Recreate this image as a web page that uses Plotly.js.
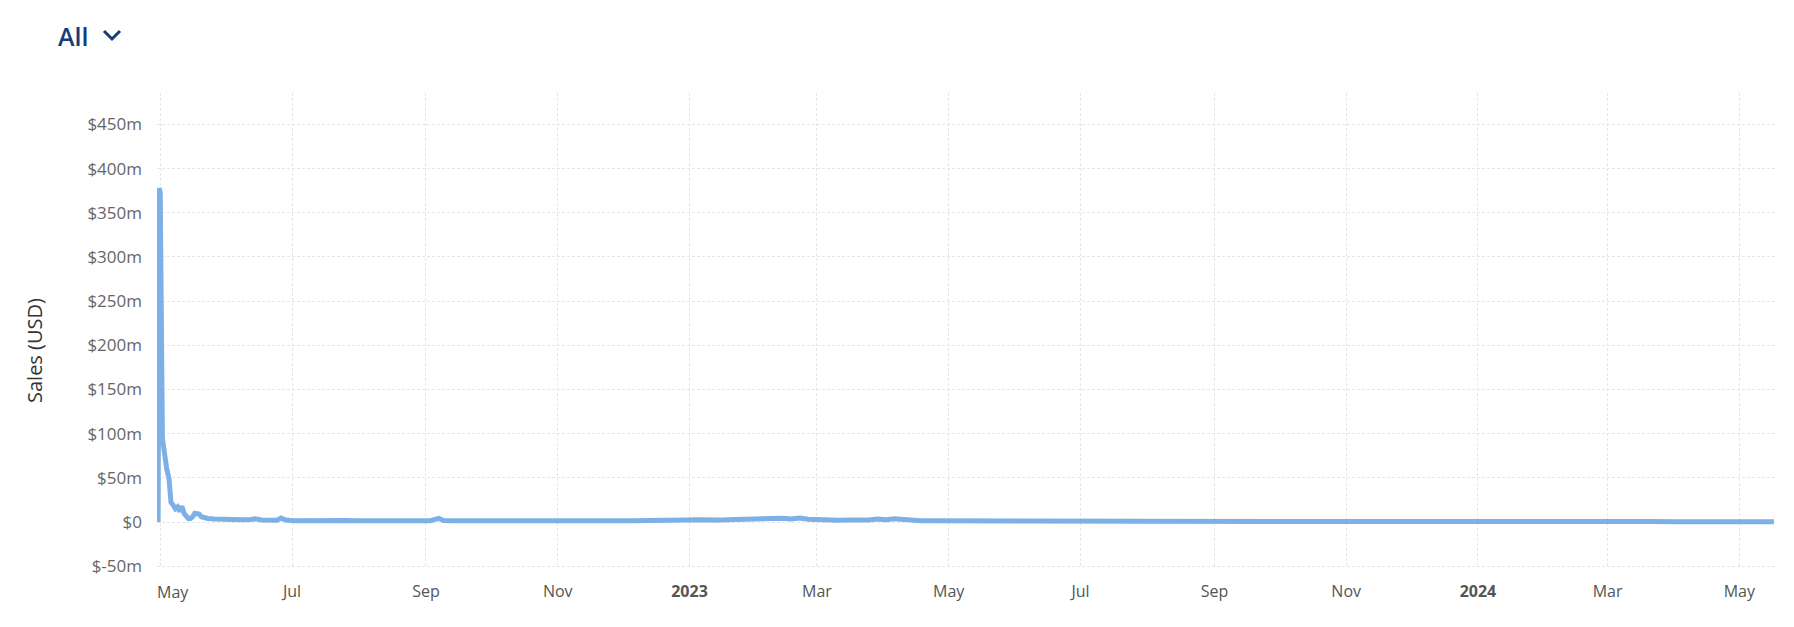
<!DOCTYPE html>
<html>
<head>
<meta charset="utf-8">
<script src="https://cdn.plot.ly/plotly-3.0.1.min.js"></script>
<style>
  html, body { margin: 0; padding: 0; background: #ffffff; }
  #chart { width: 1794px; height: 627px; }
</style>
</head>
<body>
<div id="chart"></div>
<script>
// Daily sales, in millions of USD
const dates = [
  "2022-04-30 00:00", "2022-04-30 12:00", "2022-05-01", "2022-05-02", "2022-05-03",
  "2022-05-04", "2022-05-05", "2022-05-06", "2022-05-07", "2022-05-08",
  "2022-05-09", "2022-05-10", "2022-05-11", "2022-05-12", "2022-05-13",
  "2022-05-14", "2022-05-15", "2022-05-16", "2022-05-17", "2022-05-18",
  "2022-05-19", "2022-05-20", "2022-05-21", "2022-05-23", "2022-05-26",
  "2022-05-30", "2022-06-03", "2022-06-08", "2022-06-12", "2022-06-14",
  "2022-06-17", "2022-06-21", "2022-06-24", "2022-06-26", "2022-06-28",
  "2022-07-02", "2022-07-06", "2022-07-10", "2022-07-14", "2022-07-18",
  "2022-07-22", "2022-07-26", "2022-07-30", "2022-08-04", "2022-08-09",
  "2022-08-14", "2022-08-19", "2022-08-24", "2022-08-29", "2022-09-03",
  "2022-09-07", "2022-09-09", "2022-09-14", "2022-09-20", "2022-09-26",
  "2022-10-02", "2022-10-08", "2022-10-14", "2022-10-20", "2022-10-26",
  "2022-11-01", "2022-11-07", "2022-11-13", "2022-11-19", "2022-11-25",
  "2022-12-01", "2022-12-07", "2022-12-13", "2022-12-19", "2022-12-25",
  "2022-12-30", "2023-01-04", "2023-01-10", "2023-01-16", "2023-01-22",
  "2023-01-27", "2023-02-01", "2023-02-05", "2023-02-09", "2023-02-13",
  "2023-02-17", "2023-02-21", "2023-02-25", "2023-03-01", "2023-03-06",
  "2023-03-11", "2023-03-16", "2023-03-21", "2023-03-25", "2023-03-29",
  "2023-04-02", "2023-04-06", "2023-04-12", "2023-04-18", "2023-04-25",
  "2023-05-03", "2023-05-12", "2023-05-22", "2023-06-01", "2023-06-12",
  "2023-06-24", "2023-07-06", "2023-07-18", "2023-07-30", "2023-08-12",
  "2023-08-25", "2023-09-07", "2023-09-20", "2023-10-03", "2023-10-16",
  "2023-10-29", "2023-11-11", "2023-11-24", "2023-12-07", "2023-12-20",
  "2024-01-02", "2024-01-15", "2024-01-28", "2024-02-10", "2024-02-23",
  "2024-03-07", "2024-03-20", "2024-04-02", "2024-04-15", "2024-04-28",
  "2024-05-10", "2024-05-17"
];
const salesM = [
  0, 378, 372, 95, 72,
  60, 50, 22, 19, 15,
  17, 12, 18, 10, 7,
  4, 4, 6, 10, 10,
  9, 6, 5, 4, 3.5,
  3, 3.2, 2.5, 2.8, 3.8,
  2.4, 1.8, 2, 4.5, 2.2,
  1.6, 1.8, 1.5, 2.6, 1.9,
  1.6, 1.8, 1.5, 1.7, 1.4,
  1.6, 1.5, 1.8, 1.4, 1.6,
  4.2, 1.8, 1.5, 1.7, 1.4,
  1.5, 1.3, 1.6, 1.4, 1.5,
  1.3, 1.5, 1.4, 1.6, 1.3,
  1.5, 1.4, 1.7, 1.5, 1.9,
  2.2, 2.6, 2.1, 2.3, 2.8,
  3.2, 3.8, 4.2, 3.6, 4.4,
  3.5, 4.6, 3.2, 2.6, 2.3,
  2.1, 2.4, 1.9, 2.2, 3.4,
  2.5, 3.6, 2.3, 1.6, 1.4,
  1.3, 1.2, 1.1, 1.0, 0.9,
  1.0, 0.8, 0.9, 0.7, 0.8,
  0.7, 0.7, 0.6, 0.7, 0.6,
  0.6, 0.7, 0.6, 0.5, 0.6,
  0.5, 0.6, 0.5, 0.5, 0.5,
  0.4, 0.5, 0.4, 0.5, 0.4,
  0.4, 0.4
];

const yTickVals = [-50, 0, 50, 100, 150, 200, 250, 300, 350, 400, 450];
const yTickText = ["$-50m", "$0", "$50m", "$100m", "$150m", "$200m", "$250m", "$300m", "$350m", "$400m", "$450m"];

const xTickVals = ["2022-05-01", "2022-07-01", "2022-09-01", "2022-11-01", "2023-01-01", "2023-03-01",
                   "2023-05-01", "2023-07-01", "2023-09-01", "2023-11-01", "2024-01-01", "2024-03-01", "2024-05-01"];
const xTickText = ["", "Jul", "Sep", "Nov", "<b>2023</b>", "Mar", "May", "Jul", "Sep", "Nov", "<b>2024</b>", "Mar", "May"];
const firstTickLabel = "May";

const W = 1794, H = 627;
const L = 157, R = 19, T = 93, B = 59;
const pw = W - L - R, ph = H - T - B;
const px = v => (v - L) / pw;
const py = v => (H - B - v) / ph;

const trace = {
  x: dates,
  y: salesM,
  type: "scatter",
  mode: "lines",
  line: { color: "#7cb0e6", width: 5 },
  hoverinfo: "x+y"
};

const gridStyle = { gridcolor: "#e6e6e6", griddash: "3px,2px", gridwidth: 1 };

const layout = {
  width: W, height: H,
  margin: { l: L, r: R, t: T, b: B },
  paper_bgcolor: "#ffffff",
  plot_bgcolor: "#ffffff",
  showlegend: false,
  font: { family: "Open Sans, sans-serif", color: "#666666" },
  xaxis: Object.assign({
    type: "date",
    range: ["2022-04-29 12:00", "2024-05-17 12:00"],
    tickmode: "array",
    tickvals: xTickVals,
    ticktext: xTickText,
    tickfont: { size: 16, color: "#555555" },
    ticks: "",
    ticklabelstandoff: 12,
    showline: false,
    zeroline: false
  }, gridStyle),
  yaxis: Object.assign({
    range: [-52, 485.5],
    tickmode: "array",
    tickvals: yTickVals,
    ticktext: yTickText,
    tickfont: { size: 17, color: "#666666" },
    ticks: "",
    ticklabelstandoff: 14,
    showline: false,
    zeroline: false
  }, gridStyle),
  annotations: [
    {
      text: "All", xref: "paper", yref: "paper",
      x: px(56), y: py(36), xanchor: "left", yanchor: "middle",
      showarrow: false,
      font: { family: "Open Sans, sans-serif", size: 25, weight: 600, color: "#173c7a" }
    },
    {
      text: "Sales (USD)", xref: "paper", yref: "paper",
      x: px(34), y: py(351), xanchor: "center", yanchor: "middle",
      textangle: -90, showarrow: false,
      font: { family: "Open Sans, sans-serif", size: 20, color: "#333333" }
    },
    {
      text: firstTickLabel, xref: "x", yref: "paper",
      x: xTickVals[0], y: py(592), xanchor: "left", yanchor: "middle",
      xshift: -5, showarrow: false,
      font: { family: "Open Sans, sans-serif", size: 16, color: "#555555" }
    }
  ],
  shapes: [
    {
      type: "path", xref: "paper", yref: "paper",
      path: "M " + px(104) + " " + py(31) + " L " + px(112) + " " + py(39) + " L " + px(120) + " " + py(31),
      line: { color: "#173c7a", width: 3 }
    }
  ]
};

Plotly.newPlot("chart", [trace], layout, { displayModeBar: false, staticPlot: true });
</script>
</body>
</html>
